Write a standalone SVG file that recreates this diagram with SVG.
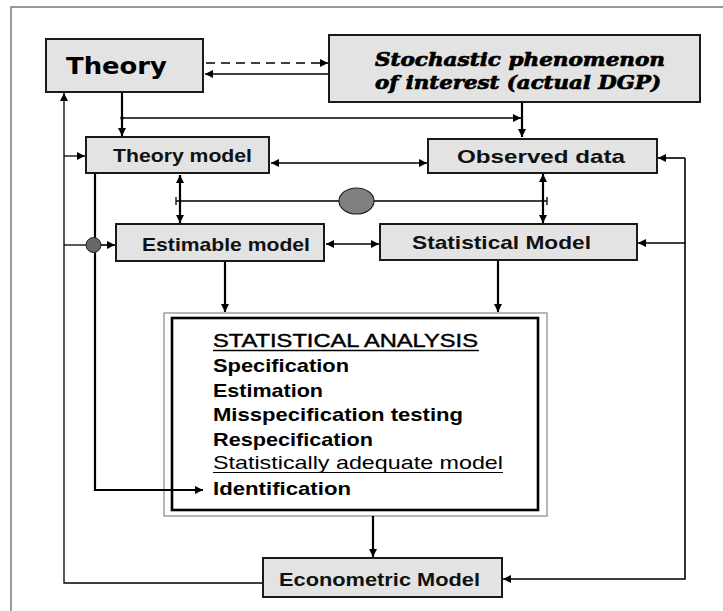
<svg xmlns="http://www.w3.org/2000/svg" width="723" height="611" viewBox="0 0 723 611">
<style>
.box{fill:#e3e3e3;stroke:#1a1a1a;stroke-width:2}
.lbl{font-family:"Liberation Sans",Arial,sans-serif;font-weight:bold;font-size:19px;fill:#111}
.big{font-family:"DejaVu Sans",sans-serif;font-weight:900;font-size:23px;fill:#000}
.sto{font-family:"DejaVu Serif",serif;font-weight:bold;font-style:italic;font-size:18px;fill:#000;stroke:#000;stroke-width:0.7}
.an{font-family:"Liberation Sans",Arial,sans-serif;font-size:19px;fill:#000}
.b{font-weight:bold}
.c{fill:none;stroke:#000;stroke-width:1.6}
.t{stroke-width:2.2}
.thin{stroke-width:1.3}
</style>
<defs>
<marker id="ah" viewBox="0 0 10 10" refX="10" refY="5" markerWidth="9" markerHeight="8" orient="auto-start-reverse" markerUnits="userSpaceOnUse">
<path d="M0,0 L10,5 L0,10 z" fill="#000"/>
</marker>
</defs>
<rect x="0" y="0" width="723" height="611" fill="#fff"/>
<rect x="11" y="7" width="800" height="700" fill="none" stroke="#777" stroke-width="1.5"/>

<g id="statistical-analysis">
<rect x="164" y="313" width="383" height="203" fill="none" stroke="#888" stroke-width="1.2"/>
<rect x="172" y="318" width="366" height="192" fill="none" stroke="#000" stroke-width="2.6"/>
<text class="an" x="213" y="347" textLength="265" lengthAdjust="spacingAndGlyphs" stroke="#000" stroke-width="0.45">STATISTICAL ANALYSIS</text>
<line x1="213" y1="350.5" x2="479" y2="350.5" stroke="#000" stroke-width="1.3"/>
<text class="an b" x="213" y="372" textLength="136" lengthAdjust="spacingAndGlyphs">Specification</text>
<text class="an b" x="213" y="397" textLength="110" lengthAdjust="spacingAndGlyphs">Estimation</text>
<text class="an b" x="213" y="421" textLength="250" lengthAdjust="spacingAndGlyphs">Misspecification testing</text>
<text class="an b" x="213" y="446" textLength="160" lengthAdjust="spacingAndGlyphs">Respecification</text>
<text class="an" x="213" y="469" textLength="290" lengthAdjust="spacingAndGlyphs">Statistically adequate model</text>
<line x1="213" y1="472.5" x2="503" y2="472.5" stroke="#000" stroke-width="1.2"/>
<text class="an b" x="213" y="495" textLength="138" lengthAdjust="spacingAndGlyphs">Identification</text>
</g>

<g id="connectors">
<path class="c" d="M206,63 H328" stroke-dasharray="9,6" marker-end="url(#ah)"/>
<path class="c" d="M329,74 H205" marker-end="url(#ah)"/>
<path class="c t" d="M122,92 V136" marker-end="url(#ah)"/>
<path class="c" d="M122,118 H521" marker-end="url(#ah)"/>
<circle cx="122" cy="118" r="1.8" fill="#000"/>
<path class="c t" d="M522,102 V137" marker-end="url(#ah)"/>
<path class="c" d="M271,163 H427" marker-start="url(#ah)" marker-end="url(#ah)"/>
<path class="c t" d="M180,175 V223" marker-start="url(#ah)" marker-end="url(#ah)"/>
<path class="c t" d="M543,174 V223" marker-start="url(#ah)" marker-end="url(#ah)"/>
<path class="c thin" d="M176,201 H339 M374,201 H547"/>
<path class="c thin" d="M176,197 V205 M547,197 V205"/>
<ellipse cx="356.5" cy="201" rx="17.5" ry="13" fill="#808080" stroke="#222" stroke-width="1.2"/>
<path class="c thin" d="M263,583 H64 V93" marker-end="url(#ah)"/>
<path class="c thin" d="M64,156 H85" marker-end="url(#ah)"/>
<path class="c thin" d="M64,245 H87"/>
<path class="c t" d="M95,174 V490 H203" marker-end="url(#ah)"/>
<circle cx="93.5" cy="245" r="7.5" fill="#666" stroke="#222" stroke-width="1"/>
<path class="c" d="M101,245 H115" marker-end="url(#ah)"/>
<path class="c" d="M326,244 H379" marker-start="url(#ah)" marker-end="url(#ah)"/>
<path class="c t" d="M225,261 V312" marker-end="url(#ah)"/>
<path class="c t" d="M498,260 V312" marker-end="url(#ah)"/>
<path class="c t" d="M373,516 V557" marker-end="url(#ah)"/>
<path class="c" d="M685,158 V579 H503" marker-end="url(#ah)"/>
<path class="c" d="M685,158 H658" marker-end="url(#ah)"/>
<path class="c" d="M685,243 H638" marker-end="url(#ah)"/>
</g>

<g id="theory">
<rect class="box" x="46" y="39" width="157" height="53"/>
<text class="big" x="66" y="74" textLength="101" lengthAdjust="spacingAndGlyphs">Theory</text>
</g>
<g id="stochastic">
<rect class="box" x="329" y="35" width="371" height="67"/>
<text class="sto" x="375" y="66" textLength="290" lengthAdjust="spacingAndGlyphs">Stochastic phenomenon</text>
<text class="sto" x="375" y="89" textLength="286" lengthAdjust="spacingAndGlyphs">of interest (actual DGP)</text>
</g>
<g id="theory-model">
<rect class="box" x="86" y="137" width="183" height="36"/>
<text class="lbl" x="113" y="162" textLength="139" lengthAdjust="spacingAndGlyphs">Theory model</text>
</g>
<g id="observed-data">
<rect class="box" x="428" y="139" width="229" height="34"/>
<text class="lbl" x="457" y="163" textLength="168" lengthAdjust="spacingAndGlyphs">Observed data</text>
</g>
<g id="estimable-model">
<rect class="box" x="116" y="224" width="208" height="37"/>
<text class="lbl" x="142" y="251" textLength="168" lengthAdjust="spacingAndGlyphs">Estimable model</text>
</g>
<g id="statistical-model">
<rect class="box" x="380" y="224" width="257" height="36"/>
<text class="lbl" x="412" y="249" textLength="179" lengthAdjust="spacingAndGlyphs">Statistical Model</text>
</g>
<g id="econometric-model">
<rect class="box" x="263" y="558" width="239" height="39"/>
<text class="lbl" x="279" y="586" textLength="201" lengthAdjust="spacingAndGlyphs">Econometric Model</text>
</g>
</svg>
